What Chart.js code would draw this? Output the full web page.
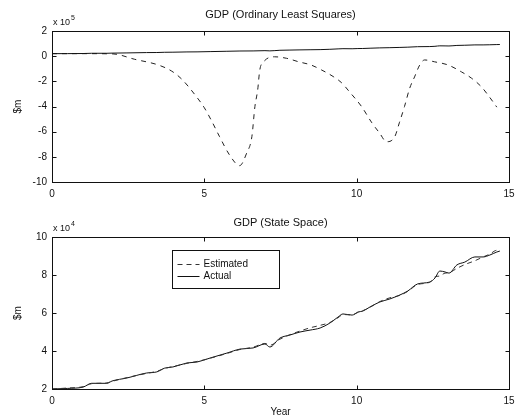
<!DOCTYPE html>
<html><head><meta charset="utf-8">
<script src="https://cdn.jsdelivr.net/npm/chart.js@4/dist/chart.umd.min.js"></script>
<style>
html,body{margin:0;padding:0;background:#fff;width:524px;height:420px;overflow:hidden}
.box{position:absolute;left:0;width:524px;height:210px}
#b1{top:0}#b2{top:210px}
canvas{display:block}
</style></head><body>
<div class="box" id="b1"><canvas id="c1" width="524" height="210"></canvas></div>
<div class="box" id="b2"><canvas id="c2" width="524" height="210"></canvas></div>
<script>
// ---- data (years since start, $m) ----
const actualYears = [0,0.5,1.02,1.3,1.8,1.97,2.46,3.1,3.44,3.7,3.97,4.43,4.76,5.19,5.74,6.17,6.6,6.99,7.15,7.48,7.81,8.14,8.47,8.8,9.12,9.39,9.55,9.85,10.04,10.2,10.44,10.76,11.09,11.42,11.68,12.0,12.4,12.57,12.73,12.9,13.03,13.29,13.55,13.88,14.15,14.37,14.6,14.7];
const actualGDP = [20000,20300,21000,23000,23000,24200,25800,28400,29000,31000,31600,33700,34200,36300,38900,41000,41600,43700,42100,46800,48400,50000,51000,52100,54700,57900,59500,58900,60500,61000,63200,65800,67400,69500,71600,75300,76300,78400,82100,81600,81000,85300,86800,89500,89500,90500,92100,92600];
const estYears = [0,0.5,1.02,1.3,1.8,1.97,2.46,3.1,3.44,3.7,3.97,4.43,4.76,5.19,5.74,6.17,6.6,6.99,7.15,7.48,7.81,8.14,8.47,8.8,9.12,9.39,9.55,9.85,10.04,10.2,10.44,10.76,11.09,11.42,11.68,12.0,12.4,12.57,12.73,12.9,13.03,13.29,13.55,13.88,14.15,14.37,14.6,14.7];
const estGDP = [20000,20500,21200,22800,23200,24000,26000,28200,29300,30800,31800,33500,34500,36200,38700,40800,42000,44000,43000,46200,48600,50500,52200,53500,55000,57500,59200,59000,60300,61200,63000,66000,68000,69300,71400,75000,76200,79000,79500,81000,81200,83500,85500,87500,89500,91000,93000,92800];
const olsYears = [0,1,2.0,2.7,3.5,3.93,4.26,4.75,5.0,5.25,5.5,5.84,6.16,6.39,6.56,6.66,6.75,6.82,6.95,7.3,7.7,8.1,8.5,8.85,9.25,9.5,9.77,10.16,10.5,10.75,10.98,11.25,11.4,11.57,11.74,11.9,12.07,12.23,12.56,13.0,13.44,13.77,14.1,14.36,14.6];
const olsGDP = [20000,20000,18000,-24000,-71000,-119000,-183000,-325000,-410000,-520000,-640000,-790000,-870000,-770000,-640000,-400000,-270000,-110000,-44000,-5000,-17000,-45000,-70000,-110000,-165000,-210000,-285000,-400000,-530000,-610000,-680000,-640000,-530000,-400000,-255000,-165000,-70000,-30000,-45000,-70000,-125000,-175000,-245000,-325000,-405000];
const xTicks = [0,5,10,15];
const topYTicks = [-10,-8,-6,-4,-2,0,2];
const botYTicks = [2,4,6,8,10];

const pts = (xs, ys) => xs.map((x,i)=>({x, y: ys[i]}));
const FONT = '"Liberation Sans", Arial, Helvetica, sans-serif';

const frame = {
  id:'frame',
  afterDraw(chart, args, o){
    const {ctx, chartArea:a, scales:{x,y}} = chart;
    ctx.save();
    ctx.strokeStyle='#111'; ctx.lineWidth=1; ctx.setLineDash([]);
    const L=Math.round(a.left)+0.5, R=Math.round(a.right)+0.5, T=Math.round(a.top)+0.5, B=Math.round(a.bottom)+0.5;
    ctx.strokeRect(L,T,R-L,B-T);
    ctx.beginPath();
    x.ticks.forEach(t=>{const px=Math.round(x.getPixelForValue(t.value))+0.5; ctx.moveTo(px,B); ctx.lineTo(px,B-4); ctx.moveTo(px,T); ctx.lineTo(px,T+4);});
    y.ticks.forEach(t=>{const py=Math.round(y.getPixelForValue(t.value))+0.5; ctx.moveTo(L,py); ctx.lineTo(L+4,py); ctx.moveTo(R,py); ctx.lineTo(R-4,py);});
    ctx.stroke();
    ctx.fillStyle='#111';
    ctx.font='11px '+FONT; ctx.textAlign='center'; ctx.textBaseline='middle';
    ctx.fillText(o.title,(a.left+a.right)/2,o.titleY);
    // exponent
    ctx.font='9px '+FONT; ctx.textAlign='left';
    ctx.fillText('x 10', a.left+1, o.expY);
    const w = ctx.measureText('x 10').width;
    ctx.font='7px '+FONT;
    ctx.fillText(o.exp, a.left+2+w, o.expY-5);
    // y label
    ctx.save();
    ctx.translate(18,(a.top+a.bottom)/2); ctx.rotate(-Math.PI/2);
    ctx.font='10px '+FONT; ctx.textAlign='center';
    ctx.fillText('$m',0,0);
    ctx.restore();
    if(o.xlabel){
      ctx.font='10px '+FONT; ctx.textAlign='center';
      ctx.fillText(o.xlabel,(a.left+a.right)/2,o.xlabelY);
    }
    if(o.legend){
      const lx=172.5, ly=a.top+13.5, lw=107, lh=38;
      ctx.fillStyle='#fff'; ctx.fillRect(lx,ly,lw,lh);
      ctx.strokeStyle='#111'; ctx.strokeRect(lx,ly,lw,lh);
      const items=chart.data.datasets;
      items.forEach((d,i)=>{
        const yy=ly+14+i*12;
        ctx.beginPath(); ctx.setLineDash(d.borderDash||[]);
        ctx.strokeStyle=d.borderColor; ctx.moveTo(lx+5,yy); ctx.lineTo(lx+27,yy); ctx.stroke();
        ctx.setLineDash([]);
        ctx.fillStyle='#111'; ctx.font='10px '+FONT; ctx.textAlign='left';
        ctx.fillText(d.label, lx+31, yy);
      });
    }
    ctx.restore();
  }
};

function makeOpts(cfg){
  return {
    responsive:false, animation:false, devicePixelRatio:1,
    layout:{padding:{top:cfg.top, right:15, left:0, bottom:0}},
    elements:{point:{radius:0}, line:{borderWidth:1, cubicInterpolationMode:'monotone'}},
    plugins:{legend:{display:false}, tooltip:{enabled:false}, title:{display:false}, frame:cfg.frame},
    scales:{
      x:{type:'linear', min:0, max:15,
         afterFit:s=>{s.height=cfg.xh;},
         afterBuildTicks:s=>{s.ticks=xTicks.map(v=>({value:v}));},
         grid:{display:false, drawTicks:false}, border:{display:false},
         ticks:{padding:cfg.xpad, color:'#111', font:{family:FONT,size:10}, maxRotation:0, callback:v=>String(v)}},
      y:{type:'linear', min:cfg.ymin, max:cfg.ymax,
         afterFit:s=>{s.width=52;},
         afterBuildTicks:s=>{s.ticks=cfg.yticks.map(v=>({value:v*cfg.mult}));},
         grid:{display:false, drawTicks:false}, border:{display:false},
         ticks:{padding:5, color:'#111', font:{family:FONT,size:10}, callback:v=>String(Math.round(v/cfg.mult))}}
    }
  };
}

new Chart(document.getElementById('c1'),{
  type:'line',
  data:{datasets:[
    {label:'Actual', data:pts(actualYears, actualGDP), borderColor:'#111', borderWidth:1, fill:false},
    {label:'OLS', data:pts(olsYears, olsGDP), borderColor:'#222', borderDash:[5,5], borderWidth:1, fill:false}
  ]},
  options:makeOpts({top:31, xh:28, xpad:6, ymin:-1000000, ymax:200000, mult:100000, yticks:topYTicks,
    frame:{title:'GDP (Ordinary Least Squares)', titleY:15, exp:'5', expY:23}}),
  plugins:[frame]
});

new Chart(document.getElementById('c2'),{
  type:'line',
  data:{datasets:[
    {label:'Estimated', data:pts(estYears, estGDP), borderColor:'#333', borderDash:[5,4], borderWidth:1, fill:false},
    {label:'Actual', data:pts(actualYears, actualGDP), borderColor:'#111', borderWidth:1, fill:false}
  ]},
  options:makeOpts({top:27, xh:31, xpad:6, ymin:20000, ymax:100000, mult:10000, yticks:botYTicks,
    frame:{title:'GDP (State Space)', titleY:13, exp:'4', expY:19, legend:true, xlabel:'Year', xlabelY:202}}),
  plugins:[frame]
});
</script>
</body></html>
